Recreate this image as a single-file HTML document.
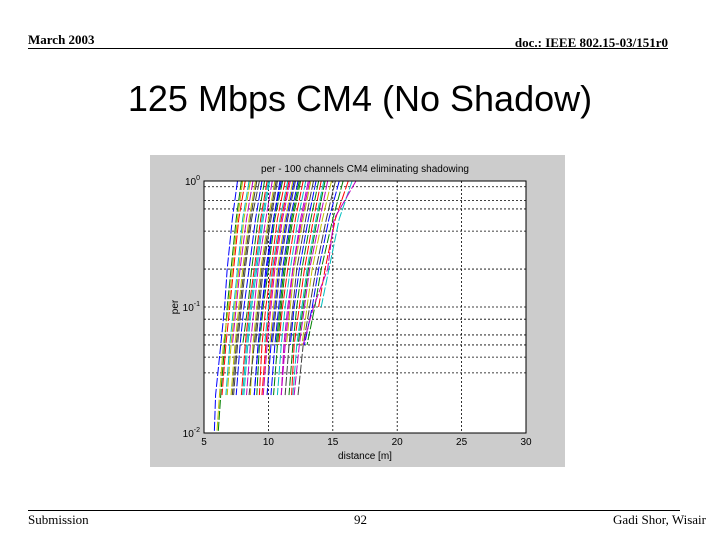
<!DOCTYPE html>
<html><head><meta charset="utf-8"><style>
body{margin:0;width:720px;height:540px;background:#fff;position:relative;overflow:hidden;font-family:"Liberation Serif",serif}
.a{position:absolute;white-space:nowrap}
</style></head><body>
<div class="a" style="left:28px;top:32px;font-size:13px;font-weight:bold">March 2003</div>
<div class="a" style="right:52px;top:35px;font-size:13px;font-weight:bold">doc.: IEEE 802.15-03/151r0</div>
<div class="a" style="left:28px;top:48px;width:640px;height:1px;background:#000"></div>
<div class="a" style="left:0;width:720px;text-align:center;top:78px;font-family:'Liberation Sans',sans-serif;font-size:36px">125 Mbps CM4 (No Shadow)</div>
<div class="a" style="left:28px;top:510px;width:652px;height:1px;background:#000"></div>
<div class="a" style="left:28px;top:512px;font-size:13px">Submission</div>
<div class="a" style="left:354px;top:512px;font-size:13px">92</div>
<div class="a" style="right:14px;top:512px;font-size:13px">Gadi Shor, Wisair</div>
<svg class="a" style="left:150px;top:155px" width="415" height="312" id="chart"></svg>
<script>
const xTicks=[5,10,15,20,25,30];
const xTickLabels=["5","10","15","20","25","30"];
const yDecades=[-2,-1,0];
const gridLevels=[0.9,0.7,0.6,0.4,0.2,0.1,0.08,0.06,0.05,0.04,0.03];
const perLevels=[1,0.5,0.2,0.1,0.05,0.02,0.01];
// distance [m] at each PER level per channel (null = curve ended)
const curves=[
[7.6,7.2,6.8,6.6,6.3,5.9,5.8],[7.9,7.5,7.1,6.8,6.6,6.3,6.1],[8.2,7.7,7.3,7.0,6.7,6.4,null],
[8.5,8.0,7.6,7.3,7.0,6.7,null],[8.8,8.3,7.8,7.5,7.2,null,null],[9.0,8.5,8.0,7.7,7.4,7.1,null],
[9.3,8.7,8.2,7.9,7.6,7.3,null],[9.5,9.0,8.5,8.1,7.8,7.5,null],[9.7,9.2,8.7,8.4,8.0,null,null],
[9.9,9.4,8.9,8.5,8.2,7.9,null],[10.1,9.6,9.1,8.7,8.4,8.1,null],[10.3,9.8,9.2,8.9,8.6,8.3,null],
[10.5,10.0,9.4,9.1,8.8,8.6,null],[10.7,10.2,9.6,9.3,9.0,null,null],[10.9,10.4,9.8,9.5,9.2,8.9,null],
[11.1,10.5,10.0,9.6,9.3,9.1,null],[11.3,10.7,10.2,9.8,9.5,9.3,null],[11.5,10.9,10.3,10.0,9.7,null,null],
[11.7,11.1,10.5,10.2,9.9,9.6,null],[11.9,11.3,10.7,10.4,10.1,9.9,null],[12.1,11.5,10.9,10.6,10.3,null,null],
[12.3,11.7,11.1,10.8,10.5,10.2,null],[12.5,11.9,11.3,11.0,10.7,10.4,null],[12.7,12.1,11.5,11.1,10.8,null,null],
[12.9,12.3,11.7,11.3,11.0,10.7,null],[13.1,12.5,11.9,11.5,11.2,11.0,null],[13.3,12.7,12.0,11.7,11.4,null,null],
[13.5,12.9,12.2,11.9,11.6,11.3,null],[13.7,13.1,12.4,12.0,11.7,null,null],[13.9,13.3,12.6,12.2,11.9,11.6,null],
[14.1,13.5,12.8,12.4,12.0,11.8,null],[14.3,13.7,13.0,12.6,12.2,11.9,null],[14.6,14.0,13.2,12.8,12.4,12.0,null],
[14.9,14.2,13.4,13.0,12.6,null,null],[15.2,14.5,13.7,13.2,12.7,12.3,null],[15.5,14.7,13.9,13.4,12.8,null,null],
[15.8,15.0,14.1,13.6,13.0,null,null],[16.2,15.2,14.4,13.9,null,null,null],[16.5,15.5,14.7,14.1,null,null,null],
[16.8,15.1,14.6,13.5,12.7,null,null],[8.0,7.6,7.2,6.9,6.5,6.2,6.0],[9.1,8.6,8.1,7.8,7.5,7.2,null],
[11.0,10.4,9.9,9.5,9.2,8.9,null],[12.4,11.8,11.2,10.9,10.6,null,null],[11.6,11.0,10.4,10.1,9.8,9.5,null],
[10.0,9.5,9.0,8.6,8.3,8.0,null],[13.2,12.6,11.9,11.6,11.3,11.0,null],[8.6,8.1,7.7,7.4,7.1,6.8,null],
[10.6,10.1,9.5,9.2,8.9,8.5,null],[12.0,11.4,10.8,10.5,10.2,9.9,null],[14.4,13.8,13.1,12.7,12.3,null,null]
];
const colors=["#0000ff","#008000","#ff0000","#00bfbf","#bf00bf","#bfbf00","#404040"];
const NS="http://www.w3.org/2000/svg";
const svg=document.getElementById('chart');
const L=54,R=376,T=26,B=278;
const XMIN=5,XMAX=30;
const xs=v=>L+(v-XMIN)/(XMAX-XMIN)*(R-L);
const ys=p=>T+(0-Math.log10(p))/2*(B-T);
function mk(t,a){const e=document.createElementNS(NS,t);for(const k in a)e.setAttribute(k,a[k]);svg.appendChild(e);return e;}
const bg=mk('rect',{x:0,y:0,width:415,height:312,fill:'#cccccc'});


const pa=mk('rect',{x:L,y:T,width:R-L,height:B-T,fill:'#fff'});


gridLevels.forEach(p=>{
const g=mk('line',{x1:L,x2:R,y1:ys(p),y2:ys(p),stroke:'#000','stroke-width':0.8,'stroke-dasharray':'2,2'});

});
xTicks.forEach((v,i)=>{
if(i>0&&i<xTicks.length-1){const g=mk('line',{x1:xs(v),x2:xs(v),y1:T,y2:B,stroke:'#000','stroke-width':0.8,'stroke-dasharray':'2,2'});

}
const t=mk('text',{x:xs(v),y:B+12,'font-size':10,'text-anchor':'middle','font-family':'Liberation Sans, sans-serif'});t.textContent=xTickLabels[i];


});
yDecades.forEach(d=>{const t=mk('text',{x:L-4,y:ys(Math.pow(10,d))+4,'font-size':10,'text-anchor':'end','font-family':'Liberation Sans, sans-serif'});
t.innerHTML='10<tspan dy="-5" font-size="7">'+d+'</tspan>';

});
curves.forEach((c,i)=>{let pts=[];c.forEach((x,j)=>{if(x!==null)pts.push(xs(x)+','+ys(perLevels[j]));});
const pl=mk('polyline',{points:pts.join(' '),fill:'none',stroke:colors[i%colors.length],'stroke-width':1,'stroke-dasharray':'9,2'});

});
const fr=mk('rect',{x:L,y:T,width:R-L,height:B-T,fill:'none',stroke:'#000','stroke-width':1});


const ti=mk('text',{x:(L+R)/2,y:17,'font-size':10,'text-anchor':'middle','font-family':'Liberation Sans, sans-serif'});ti.textContent='per - 100 channels CM4 eliminating shadowing';


const xl=mk('text',{x:(L+R)/2,y:B+26,'font-size':10,'text-anchor':'middle','font-family':'Liberation Sans, sans-serif'});xl.textContent='distance [m]';


const yl=mk('text',{x:28,y:(T+B)/2,'font-size':10,'text-anchor':'middle','font-family':'Liberation Sans, sans-serif',transform:'rotate(-90 28 '+((T+B)/2)+')'});yl.textContent='per';


</script>
</body></html>
